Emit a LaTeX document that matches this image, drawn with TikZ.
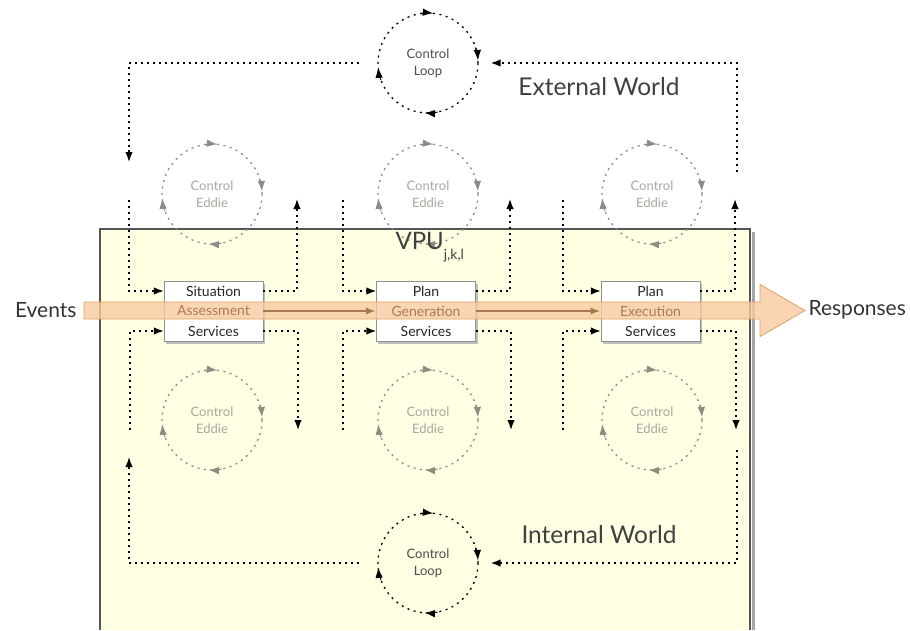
\documentclass[tikz,border=0pt]{standalone}
\usepackage{fontspec}
\setmainfont{Lato}
\usetikzlibrary{arrows.meta,calc}

\definecolor{paper}{HTML}{FFFFE4}
\definecolor{frame}{HTML}{555555}
\definecolor{eddy}{HTML}{8C8C84}
\definecolor{eddytext}{HTML}{A8A8A0}
\definecolor{flowfill}{HTML}{F8CBA0}
\definecolor{flowedge}{HTML}{E2A068}
\definecolor{flowtext}{HTML}{B07A50}
\definecolor{flowline}{HTML}{A87850}
\definecolor{boxedge}{HTML}{8F8F8F}

% four clockwise arrow tips on a circular loop: node, radius, colour
\newcommand\cwtips[3]{%
  \foreach \a in {-84,-3,94,175}{
    \draw[#3, line width=1pt, -{Latex[length=10.5pt,width=7.5pt]}]
      ([shift={(\a-15:#2)}]#1.center) arc[start angle=\a-15, end angle=\a, radius=#2];
  }}

\tikzset{
  conn/.style={line width=1.5pt, dash pattern=on 2pt off 4pt, -{Latex[length=10pt,width=7.5pt]}},
  connplain/.style={line width=1.5pt, dash pattern=on 2pt off 4pt},
  loopc/.style={circle, draw=black, line width=1.3pt, dash pattern=on 2pt off 4.5pt,
    minimum size=100pt, inner sep=0pt, align=center,
    font=\fontsize{13}{17}\selectfont, text=black!70},
  eddyc/.style={loopc, draw=eddy, text=eddytext},
  unitbox/.style={draw=boxedge, fill=white, line width=0.9pt,
    minimum width=99pt, minimum height=60pt, inner sep=0pt},
  boxshade/.style={fill=black!25},
  rowtext/.style={minimum width=99pt, minimum height=20pt, inner sep=0pt,
    font=\fontsize{14}{15}\selectfont, text=black!85},
  midtext/.style={rowtext, text=flowtext},
  sidetext/.style={font=\fontsize{21}{25}\selectfont, text=black!80},
  worldtext/.style={font=\fontsize{24.5}{28}\selectfont, text=black!75},
  flowlink/.style={draw=flowline, line width=1.8pt, -{Latex[length=10pt,width=7pt]}},
}

\begin{document}
\begin{tikzpicture}[x=1pt,y=-1pt]
\useasboundingbox (0,0) rectangle (910,630);

% the VPU frame (internal world)
\fill[black!35] (752,232) rectangle (754.5,630);
\fill[paper] (100,229) rectangle (750,630);
\draw[frame, line width=1.3pt] (100,630) -- (100,229) -- (750,229) -- (750,630);

% control loops
\node[loopc] (loopT) at (428,63) {Control\\Loop};
\node[loopc] (loopB) at (428,563) {Control\\Loop};
\cwtips{loopT}{50}{black}
\cwtips{loopB}{50}{black}

% control eddies
\node[eddyc] (eLT) at (212,194) {Control\\Eddie};
\node[eddyc] (eMT) at (428,194) {Control\\Eddie};
\node[eddyc] (eRT) at (652,194) {Control\\Eddie};
\node[eddyc] (eLB) at (212,420) {Control\\Eddie};
\node[eddyc] (eMB) at (428,420) {Control\\Eddie};
\node[eddyc] (eRB) at (652,420) {Control\\Eddie};
\foreach \e in {eLT,eMT,eRT,eLB,eMB,eRB}{\cwtips{\e}{50}{eddy}}

% service boxes, each with a slight shadow
\foreach \n/\x in {sa/213.5,pg/426,pe/650.5}{
  \fill[boxshade] (\x-48,283.5) rectangle (\x+51.5,343.5);
  \node[unitbox] (\n) at (\x,311) {};
}

% event flow
\filldraw[fill=flowfill, draw=flowedge, line width=0.8pt, fill opacity=0.8]
  (84,302) -- (760,302) -- (760,284.5) -- (805,310.5) -- (760,336.5) -- (760,319) -- (84,319) -- cycle;
\draw[flowlink] (sa.east) -- (pg.west);
\draw[flowlink] (pg.east) -- (pe.west);

% box rows
\node[rowtext] (sa-top) at (213.5,291) {Situation};
\node[midtext] (sa-mid) at (213.5,311) {Assessment};
\node[rowtext] (sa-bot) at (213.5,331) {Services};
\node[rowtext] (pg-top) at (426,291) {Plan};
\node[midtext] (pg-mid) at (426,311) {Generation};
\node[rowtext] (pg-bot) at (426,331) {Services};
\node[rowtext] (pe-top) at (650.5,291) {Plan};
\node[midtext] (pe-mid) at (650.5,311) {Execution};
\node[rowtext] (pe-bot) at (650.5,331) {Services};

% free ends of the feedback paths
\coordinate (lA) at (129,162);  \coordinate (lB) at (129,200);
\coordinate (lC) at (297,199);  \coordinate (lD) at (298,430);
\coordinate (lE) at (130,430);  \coordinate (lF) at (129,457);
\coordinate (mA) at (343,200);  \coordinate (mB) at (510,199);
\coordinate (mC) at (511,430);  \coordinate (mD) at (343,430);
\coordinate (rA) at (563,200);  \coordinate (rB) at (735,199);
\coordinate (rC) at (736,430);  \coordinate (rD) at (563,430);
\coordinate (rE) at (737,172);  \coordinate (rF) at (737,450);

% external loop paths
\draw[connplain] ([xshift=-18pt]loopT.west) -| ($(lA)+(0,-10)$);
\draw[conn] ($(lA)+(0,-12)$) -- (lA);
\draw[conn] (rE) |- ([xshift=12pt]loopT.east);
% internal loop paths
\draw[connplain] ([xshift=-18pt]loopB.west) -| ($(lF)+(0,10)$);
\draw[conn] ($(lF)+(0,12)$) -- (lF);
\draw[conn] (rF) |- ([xshift=12pt]loopB.east);

% situation assessment eddies
\draw[conn] (lB) |- (sa-top.west);
\draw[conn] (sa-top.east) -| (lC);
\draw[conn] (sa-bot.east) -| (lD);
\draw[conn] (lE) |- (sa-bot.west);
% plan generation eddies
\draw[conn] (mA) |- (pg-top.west);
\draw[conn] (pg-top.east) -| (mB);
\draw[conn] (pg-bot.east) -| (mC);
\draw[conn] (mD) |- (pg-bot.west);
% plan execution eddies
\draw[conn] (rA) |- (pe-top.west);
\draw[conn] (pe-top.east) -| (rB);
\draw[conn] (pe-bot.east) -| (rC);
\draw[conn] (rD) |- (pe-bot.west);

% labels
\node[sidetext, anchor=east] (events) at (80,310) {Events};
\node[sidetext, anchor=west] (responses) at (805,310) {Responses};
\node[worldtext] (ext) at (599,87) {External World};
\node[worldtext] (int) at (599,535) {Internal World};
\node[font=\fontsize{24}{28}\selectfont, text=black!75, anchor=west] (vpu) at (392,247)
  {VPU\raisebox{-10pt}{\fontsize{14}{15}\selectfont j,k,l}};
\end{tikzpicture}
\end{document}
